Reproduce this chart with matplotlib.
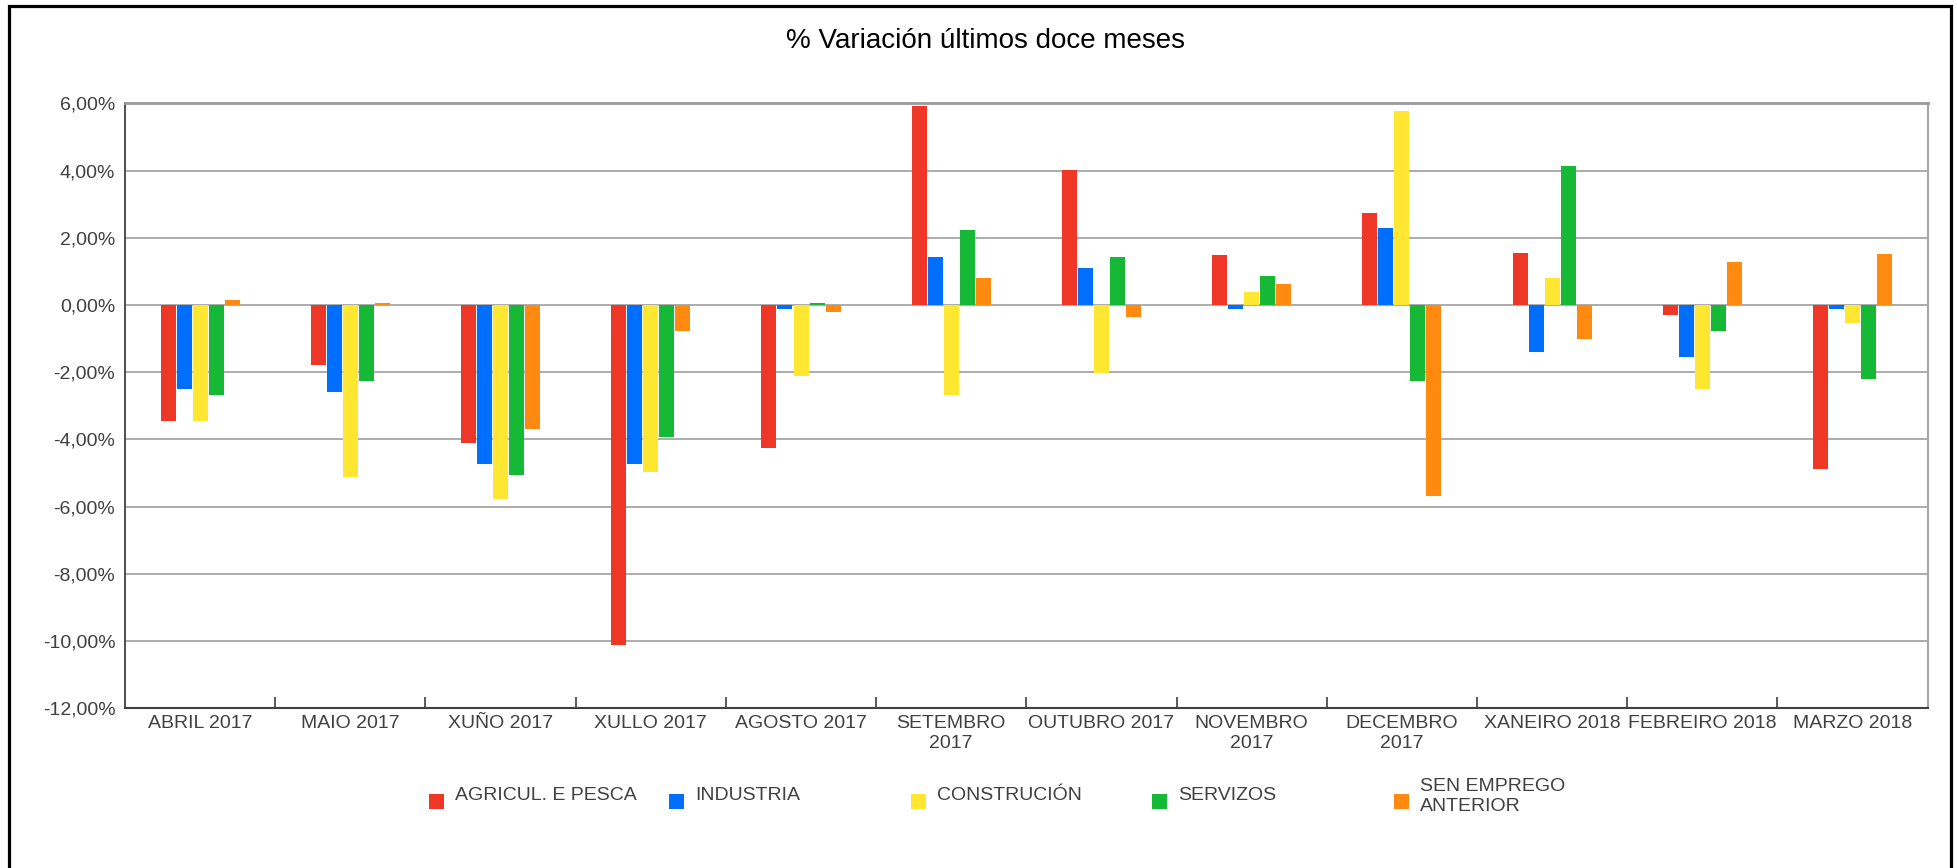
import matplotlib
matplotlib.use("Agg")
import matplotlib.pyplot as plt
from matplotlib.patches import Rectangle
from matplotlib.ticker import FuncFormatter, FixedLocator
import numpy as np

plt.rcParams['font.family'] = ['Liberation Sans', 'DejaVu Sans']

categories = ['ABRIL 2017', 'MAIO 2017', 'XUÑO 2017', 'XULLO 2017', 'AGOSTO 2017',
              'SETEMBRO\n2017', 'OUTUBRO 2017', 'NOVEMBRO\n2017', 'DECEMBRO\n2017',
              'XANEIRO 2018', 'FEBREIRO 2018', 'MARZO 2018']
series_names = ['AGRICUL. E PESCA', 'INDUSTRIA', 'CONSTRUCIÓN', 'SERVIZOS', 'SEN EMPREGO\nANTERIOR']
agricul = [-3.45, -1.78, -4.10, -10.13, -4.25, 5.93, 4.03, 1.50, 2.75, 1.56, -0.30, -4.87]
industria = [-2.50, -2.58, -4.72, -4.72, -0.12, 1.42, 1.09, -0.12, 2.28, -1.40, -1.54, -0.12]
construcion = [-3.45, -5.11, -5.76, -4.96, -2.11, -2.67, -2.02, 0.38, 5.78, 0.79, -2.50, -0.53]
servizos = [-2.67, -2.26, -5.05, -3.92, 0.05, 2.22, 1.42, 0.85, -2.26, 4.12, -0.77, -2.20]
sen_emprego = [0.14, 0.05, -3.68, -0.77, -0.21, 0.79, -0.36, 0.61, -5.67, -1.01, 1.27, 1.51]
yticks = [-12, -10, -8, -6, -4, -2, 0, 2, 4, 6]

series = [agricul, industria, construcion, servizos, sen_emprego]
colors = ['#EF3727', '#006EFF', '#FFE630', '#16B936', '#FF8A0F']

W, H = 1958, 868
fig = plt.figure(figsize=(W / 100, H / 100), dpi=100)
ax = fig.add_axes([125 / W, 1 - 708.3 / H, (1927.7 - 125) / W, (708.3 - 103.3) / H])

x = np.arange(len(categories))
pitch = 0.1067
bw = 0.1
for j, (vals, c) in enumerate(zip(series, colors)):
    ax.bar(x + (j - 2) * pitch, vals, width=bw, color=c, zorder=3, linewidth=0)

ax.set_xlim(-0.5, len(categories) - 0.5)
ax.set_ylim(-12, 6)
ax.set_yticks(yticks)
ax.yaxis.set_major_formatter(FuncFormatter(lambda v, p: f"{v:.2f}".replace('.', ',') + '%'))
ax.tick_params(axis='y', length=0, pad=7, labelsize=14, labelcolor='#404040')
ax.grid(axis='y', color='#a6a6a6', linewidth=1.3, zorder=1)

ax.set_xticks(x)
ax.set_xticklabels(categories, linespacing=1.25)
ax.tick_params(axis='x', which='major', length=0, pad=5, labelsize=14, labelcolor='#404040')
ax.xaxis.set_minor_locator(FixedLocator(np.arange(0.5, len(categories) - 1, 1.0)))
ax.tick_params(axis='x', which='minor', direction='in', length=8, width=1.2, color='#404040')

ax.spines['left'].set_color('#404040')
ax.spines['left'].set_linewidth(1.3)
ax.spines['bottom'].set_color('#404040')
ax.spines['bottom'].set_linewidth(1.5)
ax.spines['top'].set_color('#999999')
ax.spines['top'].set_linewidth(2)
ax.spines['right'].set_color('#a6a6a6')
ax.spines['right'].set_linewidth(1.5)

fig.text(986 / W, 1 - 41 / H, '% Variación últimos doce meses', ha='center', va='center',
         fontsize=20, color='black')

# legend
leg_x = [429, 669, 911, 1152, 1394]
for lx, name, c in zip(leg_x, series_names, colors):
    fig.add_artist(Rectangle((lx / W, 1 - (801 + 7.5) / H), 15 / W, 15 / H,
                             transform=fig.transFigure, facecolor=c, edgecolor='none'))
    if '\n' in name:
        fig.text((lx + 26) / W, 1 - 796.5 / H, name, ha='left', va='center', fontsize=14,
                 color='#404040', linespacing=1.2)
    else:
        fig.text((lx + 26) / W, 1 - 795 / H, name, ha='left', va='center', fontsize=14,
                 color='#404040')

# outer frame
fig.add_artist(Rectangle((9 / W, -0.02), (1951.5 - 9) / W, 1 - 6 / H + 0.02,
                         transform=fig.transFigure, fill=False, edgecolor='black',
                         linewidth=2.3, clip_on=False))

fig.savefig('out.png', dpi=100, facecolor='white')
